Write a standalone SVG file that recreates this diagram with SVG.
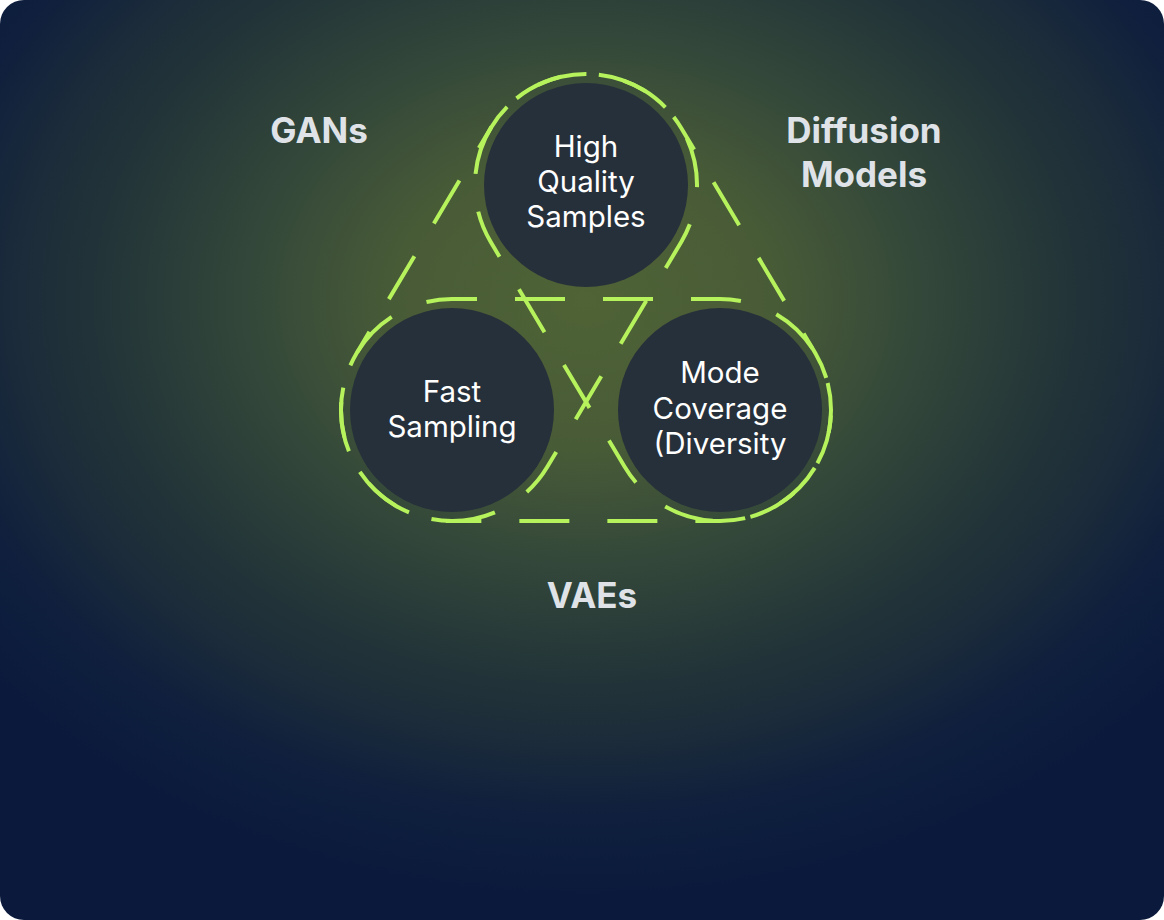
<svg xmlns="http://www.w3.org/2000/svg" width="1164" height="920" viewBox="0 0 1164 920">
  <defs>
    <radialGradient id="bg" gradientUnits="userSpaceOnUse" cx="0" cy="0" r="1" gradientTransform="translate(585 300) scale(768 600)">
      <stop offset="0" stop-color="#4f6336"/>
      <stop offset="0.25" stop-color="#485b37"/>
      <stop offset="0.433" stop-color="#34483a"/>
      <stop offset="0.633" stop-color="#223438"/>
      <stop offset="0.733" stop-color="#1c2c3a"/>
      <stop offset="0.86" stop-color="#0f1f3d"/>
      <stop offset="1" stop-color="#0b1a3c"/>
    </radialGradient>
    <style>
      .hull { fill: none; stroke: #b6f25c; stroke-width: 4; stroke-dasharray: 50 38; stroke-dashoffset: 25; }
      .node { fill: #26303a; }
      .ntext { font-family: Inter, "Liberation Sans", sans-serif; font-size: 29.5px; fill: #ffffff; text-anchor: middle; }
      .label { font-family: Inter, "Liberation Sans", sans-serif; font-size: 35px; font-weight: 700; fill: #dfe3e8; text-anchor: middle; }
    </style>
  </defs>
  <rect x="0" y="0" width="1164" height="920" rx="24" ry="24" fill="url(#bg)"/>

  <g id="connectors">
    <path class="hull" transform="translate(586 410)" d="M -134 -111 L 134 -111 A 111 111 0 0 1 134 111 L -134 111 A 111 111 0 0 1 -134 -111 Z"/>
    <path class="hull" transform="translate(519 297.5) rotate(-59.23)" d="M -131 -111 L 131 -111 A 111 111 0 0 1 131 111 L -131 111 A 111 111 0 0 1 -131 -111 Z"/>
    <path class="hull" transform="translate(653 297.5) rotate(59.23)" d="M -131 -111 L 131 -111 A 111 111 0 0 1 131 111 L -131 111 A 111 111 0 0 1 -131 -111 Z"/>
  </g>

  <g id="node-high-quality">
    <circle class="node" cx="586" cy="185" r="102"/>
    <text class="ntext" x="586" y="157">High</text>
    <text class="ntext" x="586" y="192">Quality</text>
    <text class="ntext" x="586" y="227">Samples</text>
  </g>
  <g id="node-fast-sampling">
    <circle class="node" cx="452" cy="410" r="102"/>
    <text class="ntext" x="452" y="402">Fast</text>
    <text class="ntext" x="452" y="437">Sampling</text>
  </g>
  <g id="node-mode-coverage">
    <circle class="node" cx="720" cy="410" r="102"/>
    <text class="ntext" x="720" y="383">Mode</text>
    <text class="ntext" x="720" y="418.5">Coverage</text>
    <text class="ntext" x="720" y="454">(Diversity</text>
  </g>

  <g id="label-gans">
    <text class="label" x="319" y="143">GANs</text>
  </g>
  <g id="label-diffusion">
    <text class="label" x="864" y="143">Diffusion</text>
    <text class="label" x="864" y="187">Models</text>
  </g>
  <g id="label-vaes">
    <text class="label" x="592" y="608">VAEs</text>
  </g>
</svg>
